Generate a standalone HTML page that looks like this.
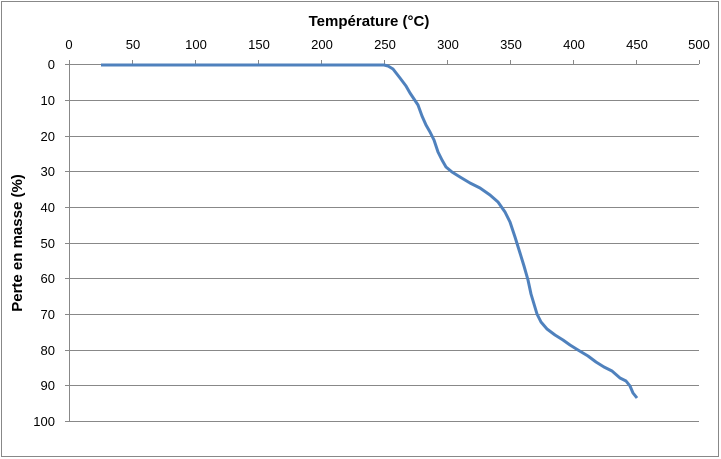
<!DOCTYPE html>
<html><head><style>body{margin:0;background:#fff}svg{display:block}</style></head><body>
<svg width="721" height="459" xmlns="http://www.w3.org/2000/svg" font-family="Liberation Sans, sans-serif">
<rect x="1.5" y="1.5" width="717" height="455" fill="#fff" stroke="#888"/>
<g stroke="#888" stroke-width="1">
<line x1="65" y1="64.5" x2="699" y2="64.5"/>
<line x1="65" y1="100.5" x2="699" y2="100.5"/>
<line x1="65" y1="136.5" x2="699" y2="136.5"/>
<line x1="65" y1="171.5" x2="699" y2="171.5"/>
<line x1="65" y1="207.5" x2="699" y2="207.5"/>
<line x1="65" y1="243.5" x2="699" y2="243.5"/>
<line x1="65" y1="278.5" x2="699" y2="278.5"/>
<line x1="65" y1="314.5" x2="699" y2="314.5"/>
<line x1="65" y1="350.5" x2="699" y2="350.5"/>
<line x1="65" y1="385.5" x2="699" y2="385.5"/>
<line x1="65" y1="421.5" x2="699" y2="421.5"/>
<line x1="69.5" y1="60" x2="69.5" y2="421"/>
<g>
<line x1="132.5" y1="60" x2="132.5" y2="64"/><line x1="195.5" y1="60" x2="195.5" y2="64"/><line x1="258.5" y1="60" x2="258.5" y2="64"/><line x1="321.5" y1="60" x2="321.5" y2="64"/><line x1="384.5" y1="60" x2="384.5" y2="64"/><line x1="447.5" y1="60" x2="447.5" y2="64"/><line x1="510.5" y1="60" x2="510.5" y2="64"/><line x1="573.5" y1="60" x2="573.5" y2="64"/><line x1="636.5" y1="60" x2="636.5" y2="64"/><line x1="699.5" y1="60" x2="699.5" y2="64"/>
</g></g>
<g font-size="13" fill="#000" text-anchor="middle">
<text x="69" y="49">0</text><text x="133" y="49">50</text><text x="196" y="49">100</text><text x="259" y="49">150</text><text x="322" y="49">200</text><text x="385" y="49">250</text><text x="448" y="49">300</text><text x="511" y="49">350</text><text x="574" y="49">400</text><text x="637" y="49">450</text><text x="699" y="49">500</text>
</g>
<g font-size="13" fill="#000" text-anchor="end">
<text x="55" y="69">0</text><text x="55" y="105">10</text><text x="55" y="141">20</text><text x="55" y="176">30</text><text x="55" y="212">40</text><text x="55" y="248">50</text><text x="55" y="283">60</text><text x="55" y="319">70</text><text x="55" y="355">80</text><text x="55" y="390">90</text><text x="55" y="426">100</text>
</g>
<text x="369" y="26" font-size="15" font-weight="bold" text-anchor="middle">Température (°C)</text>
<text transform="translate(22,243) rotate(-90)" font-size="15" font-weight="bold" text-anchor="middle">Perte en masse (%)</text>
<polyline fill="none" stroke="#4f81bd" stroke-width="3" stroke-linejoin="round" points="101,65 384,65 388,66 393,69 400,78 406,86 410,93 414,99 418,105 422,116 426,125 430,132 434,140 438,152 442,160 446,167 452,172 460,177 470,183 480,188 490,195 498,202 505,212 510,222 515,237 520,253 524,266 528,280 531,294 534,304 537,314 541,322 547,329 555,335 563,340 570,345 578,350 588,356 596,362 604,367 612,371 620,378 626,381 630,386 633,393 637,398"/>
</svg>
</body></html>
